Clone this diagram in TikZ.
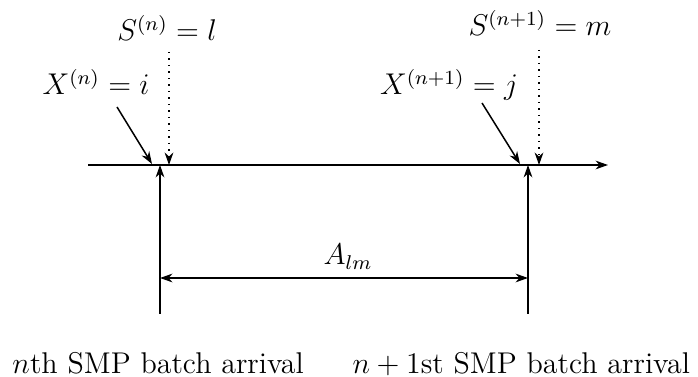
\documentclass[tikz,border=0pt]{standalone}
\usetikzlibrary{arrows.meta}
\begin{document}
\begin{tikzpicture}[x=0.4pt,y=-0.4pt,
  line/.style={line width=0.6pt},
  tip/.style={-{Stealth[length=5pt,width=3.5pt]}},
  dtip/.style={{Stealth[length=5pt,width=3.5pt]}-{Stealth[length=5pt,width=3.5pt]}},
  toplabel/.style={anchor=base,inner sep=0pt,font=\fontsize{12}{14}\selectfont},
  botlabel/.style={anchor=base west,inner sep=0pt,font=\fontsize{12}{14}\selectfont}]
\useasboundingbox (0,0) rectangle (698,377);
% axis
\coordinate (ax0) at (88,165);
\coordinate (ax1) at (608,165);
\draw[line,tip] (ax0) -- (ax1);
% vertical solid arrows
\coordinate (l0) at (160,314);
\coordinate (l1) at (160,165);
\coordinate (r0) at (528,314);
\coordinate (r1) at (528,165);
\draw[line,tip] (l0) -- (l1);
\draw[line,tip] (r0) -- (r1);
% A_lm
\coordinate (a0) at (160,278);
\coordinate (a1) at (528,278);
\draw[line,dtip] (a0) -- (a1);
\node[toplabel] (alm) at (348,265) {$A_{lm}$};
% top labels
\node[toplabel] (sn) at (167,41) {$S^{(n)}=l$};
\node[toplabel] (sn1) at (540,36) {$S^{(n+1)}=m$};
\node[toplabel] (xn) at (96,95) {$X^{(n)}=i$};
\node[toplabel] (xn1) at (449,95) {$X^{(n+1)}=j$};
% dotted arrows
\coordinate (sd0) at (169,52);
\coordinate (sd1) at (169,165);
\coordinate (sm0) at (539,50);
\coordinate (sm1) at (539,165);
\draw[line,dotted,tip] (sd0) -- (sd1);
\draw[line,dotted,tip] (sm0) -- (sm1);
% X arrows
\coordinate (xa0) at (117,107);
\coordinate (xa1) at (152,164);
\coordinate (xb0) at (482,103);
\coordinate (xb1) at (520,164);
\draw[line,tip] (xa0) -- (xa1);
\draw[line,tip] (xb0) -- (xb1);
% bottom labels
\node[botlabel] (b1) at (12,374) {$n$th SMP batch arrival};
\node[botlabel] (b2) at (352,374) {$n+1$st SMP batch arrival};
\end{tikzpicture}
\end{document}
